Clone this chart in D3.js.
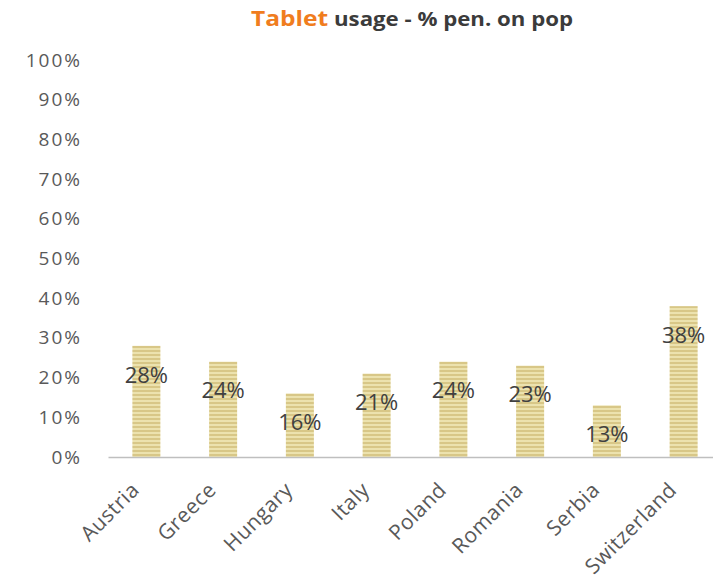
<!DOCTYPE html>
<html lang="en">
<head>
<meta charset="UTF-8">
<title>Tablet usage</title>
<script src="https://cdn.jsdelivr.net/npm/d3@7"></script>
<style>
  body { margin: 0; background: #fff; }
  svg { display: block; font-family: "Open Sans", sans-serif; }
</style>
</head>
<body>
<svg id="chart" width="713" height="586"></svg>
<script>
// data
var countries = ['Austria', 'Greece', 'Hungary', 'Italy', 'Poland', 'Romania', 'Serbia', 'Switzerland'];
var penetration = [0.28, 0.24, 0.16, 0.21, 0.24, 0.23, 0.13, 0.38];
var yTicks = [0, 0.1, 0.2, 0.3, 0.4, 0.5, 0.6, 0.7, 0.8, 0.9, 1.0];

var svg = d3.select('#chart');
var margin = { left: 108, top: 60, bottom: 129 };
var height = +svg.attr('height');
var innerWidth = 614;   // plot runs past the right edge of the picture
var innerHeight = height - margin.top - margin.bottom;

// striped fill like the excel picture
var defs = svg.append('defs');
var pat = defs.append('pattern')
    .attr('id', 'stripes')
    .attr('patternUnits', 'userSpaceOnUse')
    .attr('width', 8).attr('height', 4);
pat.append('rect').attr('width', 8).attr('height', 4).attr('fill', '#ece2ae');
pat.append('rect').attr('y', 2).attr('width', 8).attr('height', 2).attr('fill', '#d8c787');

var g = svg.append('g')
    .attr('transform', `translate(${margin.left},${margin.top})`);

var xScale = d3.scaleBand()
    .domain(countries)
    .range([0, innerWidth])
    .paddingInner(0.635)
    .paddingOuter(0.3175);

var yScale = d3.scaleLinear()
    .domain([0, 1])
    .range([innerHeight, 0]);

var yAxis = d3.axisLeft(yScale)
    .tickValues(yTicks)
    .tickFormat(d3.format('.0%'))
    .tickSize(0)
    .tickPadding(26);

var yAxisG = g.append('g').call(yAxis);
yAxisG.select('.domain').remove();
yAxisG.selectAll('text')
    .attr('fill', '#595959')
    .style('font-size', '19px')
    .style('letter-spacing', '2px')
    .style('font-family', '"Open Sans", sans-serif');

g.selectAll('rect.bar').data(countries)
    .enter().append('rect')
    .attr('class', 'bar')
    .attr('x', d => xScale(d))
    .attr('y', (d, i) => yScale(penetration[i]))
    .attr('width', xScale.bandwidth())
    .attr('height', (d, i) => innerHeight - yScale(penetration[i]))
    .attr('fill', 'url(#stripes)');

var xAxis = d3.axisBottom(xScale).tickSize(0).tickPadding(0);
var xAxisG = g.append('g')
    .attr('transform', `translate(0,${innerHeight})`)
    .call(xAxis);
xAxisG.select('.domain')
    .attr('stroke', '#bfbfbf')
    .attr('stroke-width', 1.5);
xAxisG.selectAll('text')
    .attr('fill', '#595959')
    .style('font-size', '21px')
    .style('letter-spacing', '0.5px')
    .style('font-family', '"Open Sans", sans-serif')
    .attr('text-anchor', 'end')
    .attr('dy', '0.35em')
    .attr('transform', 'translate(-11,29) rotate(-45)');

// value labels, inside end
g.selectAll('text.val').data(countries)
    .enter().append('text')
    .attr('class', 'val')
    .attr('x', d => xScale(d) + xScale.bandwidth() / 2)
    .attr('y', (d, i) => yScale(penetration[i]) + 29)
    .attr('dy', '0.35em')
    .attr('text-anchor', 'middle')
    .attr('fill', '#404040')
    .style('font-size', '22px')
    .text((d, i) => Math.round(penetration[i] * 100) + '%');

// title
var title = svg.append('text')
    .attr('text-anchor', 'middle')
    .attr('transform', 'translate(412,26) scale(1.17,1)')
    .style('font-size', '19px')
    .style('font-weight', 'bold');
title.append('tspan').attr('fill', '#f07d1e').style('font-size', '21px').text('Tablet');
title.append('tspan').attr('fill', '#3b3b3b').text(' usage - % pen. on pop');
</script>
</body>
</html>
